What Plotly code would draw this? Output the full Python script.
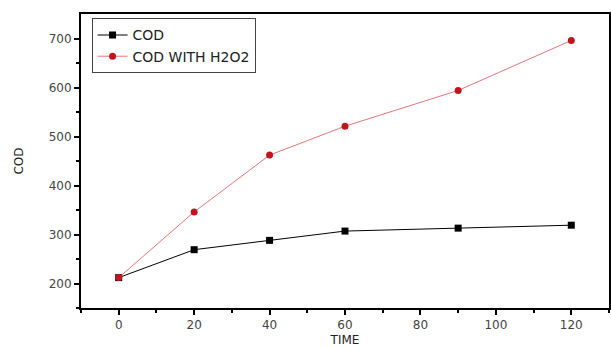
import plotly.graph_objects as go

time = [0, 20, 40, 60, 90, 120]
cod = [212, 269, 288, 307, 313, 319]
cod_h2o2 = [212, 346, 462, 521, 594, 696]
x_ticks = [0, 20, 40, 60, 80, 100, 120]
y_ticks = [200, 300, 400, 500, 600, 700]

FONT = "DejaVu Sans"

fig = go.Figure()
fig.add_trace(go.Scatter(x=time, y=cod, mode="lines+markers", name="COD",
                         line=dict(color="black", width=1),
                         marker=dict(symbol="square", size=7, color="black")))
fig.add_trace(go.Scatter(x=time, y=cod_h2o2, mode="lines+markers", name="COD WITH H2O2",
                         line=dict(color="#e07878", width=1),
                         marker=dict(symbol="circle", size=7, color="#c0141e")))

axis_common = dict(showline=True, linecolor="black", linewidth=2, mirror=True,
                   ticks="outside", ticklen=5, tickwidth=1.5, tickcolor="black",
                   showgrid=False, zeroline=False, automargin=False,
                   tickfont=dict(family=FONT, size=12, color="#444"))
fig.update_xaxes(range=[-10, 130], tickvals=x_ticks,
                 minor=dict(tickvals=[-10, 10, 30, 50, 70, 90, 110, 130], ticks="outside", ticklen=3, tickcolor="black"),
                 title=dict(text="TIME", font=dict(family=FONT, size=12, color="#222"), standoff=4),
                 **axis_common)
fig.update_yaxes(range=[150, 750], tickvals=y_ticks,
                 minor=dict(tickvals=[150, 250, 350, 450, 550, 650], ticks="outside", ticklen=3, tickcolor="black"),
                 title=dict(text="COD", font=dict(family=FONT, size=12, color="#222"), standoff=22),
                 **axis_common)

fig.update_layout(width=611, height=349, plot_bgcolor="white", paper_bgcolor="white",
                  margin=dict(l=81, r=2, t=14, b=41),
                  font=dict(family=FONT, size=12, color="#222"),
                  legend=dict(x=0.02, y=0.985, xanchor="left", yanchor="top",
                              bordercolor="#444", borderwidth=1, bgcolor="white",
                              font=dict(family=FONT, size=14, color="#222"),
                              tracegroupgap=0, itemwidth=30,
                              entrywidth=185, entrywidthmode="pixels"))
fig.write_html("out.html", config={"displayModeBar": False},
               post_script="document.body.style.margin='0';")
